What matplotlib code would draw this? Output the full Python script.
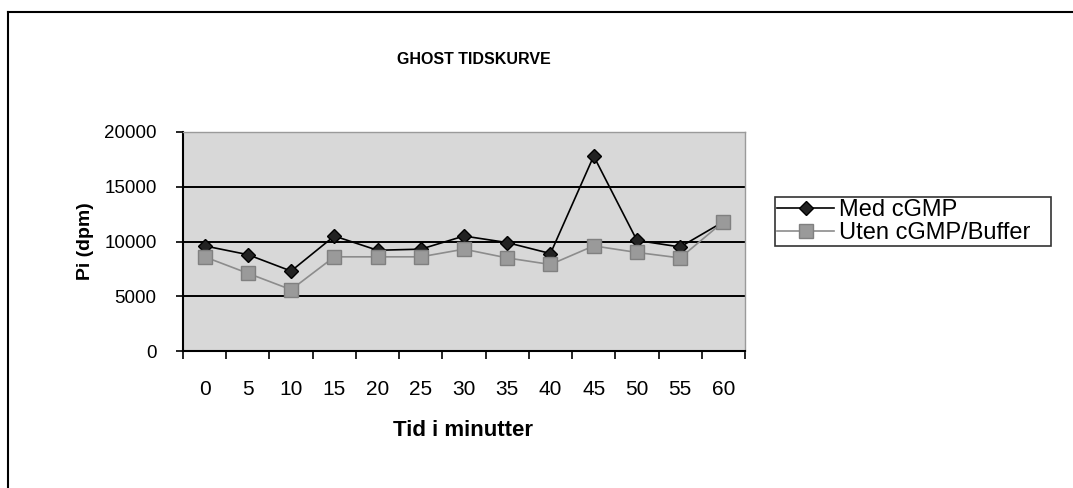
import numpy as np
from matplotlib import pyplot as plt
from matplotlib.lines import Line2D

plt.rcParams['font.family'] = ['Liberation Sans', 'DejaVu Sans']

# data
tid = [0, 5, 10, 15, 20, 25, 30, 35, 40, 45, 50, 55, 60]
med_cgmp = [9600, 8800, 7300, 10500, 9200, 9300, 10500, 9900, 8900, 17800, 10100, 9500, 11800]
uten_cgmp = [8600, 7100, 5600, 8600, 8600, 8600, 9300, 8500, 7900, 9600, 9000, 8500, 11800]
yticks = [0, 5000, 10000, 15000, 20000]

fig = plt.figure( figsize=(10.73, 4.88), dpi=100 )
fig.patch.set_facecolor( 'white' )

# outer chart frame (only left and top visible in the scan)
fig.add_artist( Line2D( [8/1073, 8/1073], [0, 1-12/488], color='black', lw=1.5 ) )
fig.add_artist( Line2D( [8/1073, 1], [1-12/488, 1-12/488], color='black', lw=1.5 ) )

ax = fig.add_axes( [183/1073, 137/488, 562/1073, 219/488] )
ax.set_facecolor( '#d8d8d8' )

x = np.arange( len(tid) )
ax.plot( x, med_cgmp, color='black', lw=1.2, marker='D', ms=7,
         mfc='#222222', mec='black', label='Med cGMP', zorder=3 )
ax.plot( x, uten_cgmp, color='#8c8c8c', lw=1.2, marker='s', ms=10,
         mfc='#9a9a9a', mec='#808080', label='Uten cGMP/Buffer', zorder=4 )

ax.set_xlim( -0.5, len(tid)-0.5 )
ax.set_ylim( 0, 20000 )

ax.set_yticks( yticks )
ax.set_yticklabels( [str(v) for v in yticks], fontsize=13.5 )
for v in yticks[1:-1]:
    ax.axhline( v, color='black', lw=1.4, zorder=1 )

ax.set_xticks( np.arange( len(tid)+1 ) - 0.5 )
ax.set_xticklabels( [] )
ax.set_xticks( x, minor=True )
ax.set_xticklabels( [str(t) for t in tid], minor=True, fontsize=15 )
ax.tick_params( axis='x', which='minor', length=0, pad=21 )
ax.tick_params( axis='x', which='major', length=6, width=1.2, direction='out' )
ax.tick_params( axis='y', length=5, width=1.2, direction='out', pad=14 )

for s in ['top', 'right']:
    ax.spines[s].set_color( '#9a9a9a' )
    ax.spines[s].set_linewidth( 1 )
for s in ['left', 'bottom']:
    ax.spines[s].set_color( 'black' )
    ax.spines[s].set_linewidth( 1.5 )

fig.text( 474/1073, 1-60/488, 'GHOST TIDSKURVE', ha='center', va='center',
          fontsize=11.5, fontweight='bold' )
fig.text( 463/1073, 1-431/488, 'Tid i minutter', ha='center', va='center',
          fontsize=16, fontweight='bold' )
fig.text( 86/1073, 1-241/488, 'Pi (dpm)', ha='center', va='center',
          fontsize=14, fontweight='bold', rotation=90 )

leg = ax.legend( loc='center left', bbox_to_anchor=(763/1073, 1-250/488, 300/1073, 57/488),
                 bbox_transform=fig.transFigure, fontsize=17, frameon=True, fancybox=False,
                 edgecolor='black', handlelength=2.4, handletextpad=0.2,
                 borderpad=0.1, labelspacing=0.05, mode='expand' )
leg.get_frame().set_linewidth( 1.2 )

fig.savefig( 'out.png', dpi=100 )
